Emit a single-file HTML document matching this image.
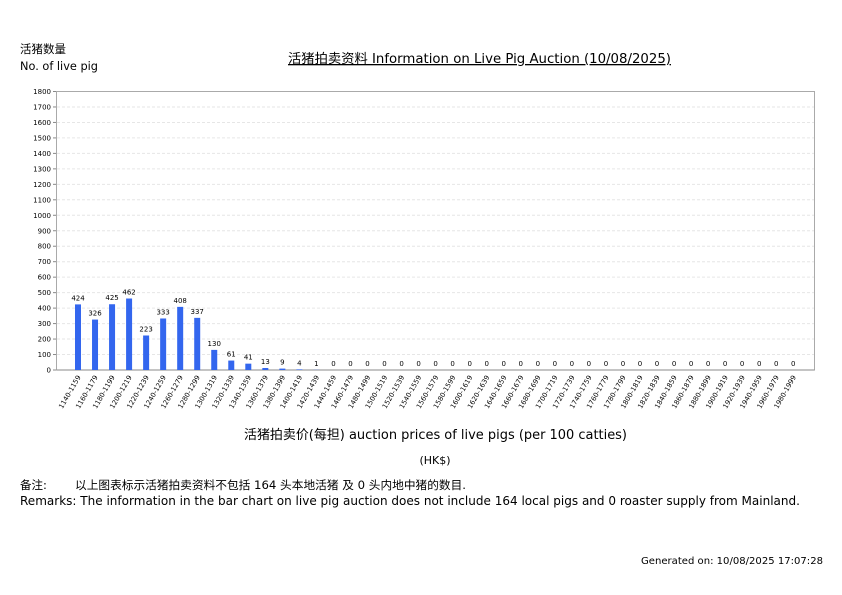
<!DOCTYPE html>
<html><head><meta charset="utf-8"><style>
body{margin:0;background:#fff;}
svg{display:block;}
text{font-family:"DejaVu Sans","Noto Sans CJK SC",sans-serif;fill:#000;}
.y{font-size:7px;text-anchor:end;}
.v{font-size:7px;text-anchor:middle;}
.x{font-size:6.8px;text-anchor:end;}
</style></head><body>
<svg id="s" width="842" height="595" viewBox="0 0 842 595" xmlns="http://www.w3.org/2000/svg">
<text x="20" y="53" style="font-size:11.5px">活猪数量</text>
<text x="20" y="70" style="font-size:11.5px" textLength="78" lengthAdjust="spacingAndGlyphs">No. of live pig</text>
<text x="288" y="63" style="font-size:13px;text-decoration:underline" textLength="383" lengthAdjust="spacingAndGlyphs">活猪拍卖资料 Information on Live Pig Auction (10/08/2025)</text>
<g id="grid"></g>
<rect x="56.5" y="91.5" width="758" height="278.5" fill="none" stroke="#aaa"/>
<line x1="56.5" y1="370" x2="814.5" y2="370" stroke="#888"/>
<g id="bars"></g>
<text x="244" y="439" style="font-size:13px" textLength="383" lengthAdjust="spacingAndGlyphs">活猪拍卖价(每担) auction prices of live pigs (per 100 catties)</text>
<text x="435" y="464" style="font-size:11px;text-anchor:middle">(HK$)</text>
<text x="20" y="489" style="font-size:11.5px">备注:</text>
<text x="75" y="489" style="font-size:11.5px" textLength="391" lengthAdjust="spacingAndGlyphs">以上图表标示活猪拍卖资料不包括 164 头本地活猪 及 0 头内地中猪的数目.</text>
<text x="20" y="505" style="font-size:12.5px" textLength="780" lengthAdjust="spacingAndGlyphs">Remarks: The information in the bar chart on live pig auction does not include 164 local pigs and 0 roaster supply from Mainland.</text>
<text x="641" y="564" style="font-size:10px" textLength="182" lengthAdjust="spacingAndGlyphs">Generated on: 10/08/2025 17:07:28</text>
</svg>
<script>
var NS="http://www.w3.org/2000/svg";
function el(p,t,a,txt){var e=document.createElementNS(NS,t);for(var k in a)e.setAttribute(k,a[k]);if(txt!=null)e.textContent=txt;p.appendChild(e);return e;}
var g=document.getElementById("grid"),b=document.getElementById("bars");
var s=278.5/1800;
for(var k=0;k<=18;k++){var y=370-k*100*s;
 if(k>0&&k<18)el(g,"line",{x1:57,x2:814,y1:y,y2:y,stroke:"#e6e6e6","stroke-dasharray":"3,2"});
 el(g,"line",{x1:53,x2:56.5,y1:y,y2:y,stroke:"#888"});
 el(g,"text",{x:51,y:y+2.5,"class":"y"},String(k*100));}
var v=[424,326,425,462,223,333,408,337,130,61,41,13,9,4,1];
for(var i=0;i<43;i++){var val=v[i]||0,cx=78+17.03*i,h=val*s;
 if(h>0)el(b,"rect",{x:cx-3,y:370-h,width:6,height:h,fill:"#3366ee"});
 el(b,"text",{x:cx,y:370-h-4,"class":"v"},String(val));
 var lo=1140+20*i;
 el(b,"text",{"class":"x",transform:"translate("+(cx+3)+",377) rotate(-60)"},lo+"-"+(lo+19));}
</script>
</body></html>
